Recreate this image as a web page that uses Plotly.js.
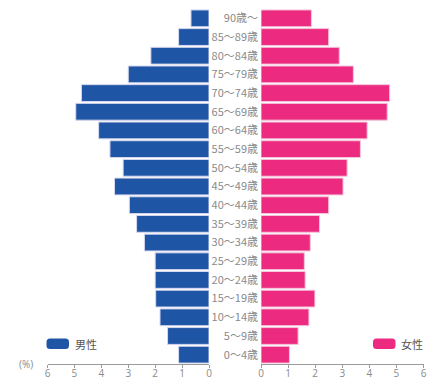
<!DOCTYPE html>
<html>
<head>
<meta charset="utf-8">
<script src="https://cdn.plot.ly/plotly-3.0.1.min.js"></script>
<style>html,body{margin:0;padding:0;background:#fff;}#chart{width:430px;height:380px;}</style>
</head>
<body>
<div id="chart"></div>
<script>
const ageGroups = ['0～4歳','5～9歳','10～14歳','15～19歳','20～24歳','25～29歳','30～34歳','35～39歳','40～44歳','45～49歳','50～54歳','55～59歳','60～64歳','65～69歳','70～74歳','75～79歳','80～84歳','85～89歳','90歳～'];
const maleValues = [1.13,1.54,1.82,1.98,2.0,2.0,2.40,2.69,2.96,3.51,3.19,3.68,4.10,4.95,4.74,3.0,2.16,1.13,0.67];
const femaleValues = [1.05,1.37,1.77,1.99,1.63,1.60,1.82,2.16,2.50,3.03,3.18,3.67,3.92,4.66,4.75,3.41,2.89,2.50,1.86];
const tickVals = [0,1,2,3,4,5,6];
const maleLabel = '男性';
const femaleLabel = '女性';
const unitLabel = '(%)';

const W = 430, H = 380;
const px = x => x / W;
const py = y => 1 - y / H;
const blue = '#1f55a5';
const pink = '#ec2a7f';
const gray = '#8a8a8a';

function roundRect(x0, y0, x1, y1, r) {
  const X = v => px(v), Y = v => py(v);
  return `M ${X(x0 + r)} ${Y(y0)} L ${X(x1 - r)} ${Y(y0)} Q ${X(x1)} ${Y(y0)} ${X(x1)} ${Y(y0 + r)} L ${X(x1)} ${Y(y1 - r)} Q ${X(x1)} ${Y(y1)} ${X(x1 - r)} ${Y(y1)} L ${X(x0 + r)} ${Y(y1)} Q ${X(x0)} ${Y(y1)} ${X(x0)} ${Y(y1 - r)} L ${X(x0)} ${Y(y0 + r)} Q ${X(x0)} ${Y(y0)} ${X(x0 + r)} ${Y(y0)} Z`;
}

const traces = [
  {type:'bar', orientation:'h', y: ageGroups, x: maleValues, xaxis:'x', yaxis:'y', name: maleLabel,
   marker:{color: blue, line:{color:'#d6d8ee', width:1}}, hoverinfo:'none'},
  {type:'bar', orientation:'h', y: ageGroups, x: femaleValues, xaxis:'x2', yaxis:'y', name: femaleLabel,
   marker:{color: pink, line:{color:'#f3c6dc', width:1}}, hoverinfo:'none'}
];

const axisCommon = {
  tickvals: tickVals, ticks:'outside', ticklen:3, tickcolor:'#9a9a9a', tickwidth:1,
  showline:true, linecolor:'#9a9a9a', linewidth:1, showgrid:false, zeroline:false,
  ticklabelstandoff:-3,
  tickfont:{family:'Open Sans, DejaVu Sans, sans-serif', size:10, color:gray}, fixedrange:true
};

const layout = {
  width: W, height: H,
  margin:{l:0, r:0, t:0, b:0},
  paper_bgcolor:'#fff', plot_bgcolor:'rgba(0,0,0,0)',
  showlegend:false, bargap:0.1, hovermode:false,
  xaxis: Object.assign({}, axisCommon, {domain:[px(47.5), px(209)], range:[6,0], anchor:'y'}),
  xaxis2: Object.assign({}, axisCommon, {domain:[px(261), px(423.5)], range:[0,6], anchor:'y'}),
  yaxis: {domain:[py(364), py(9)], anchor:'x2', side:'left', type:'category',
          categoryorder:'array', categoryarray: ageGroups,
          showline:false, showgrid:false, zeroline:false, ticks:'', ticklabelstandoff:2,
          tickfont:{family:'Noto Sans CJK JP, sans-serif', size:11, color:gray}, fixedrange:true},
  shapes: [
    {type:'path', xref:'paper', yref:'paper', path: roundRect(46.5, 338.5, 69, 349, 3.5), fillcolor: blue, line:{width:0}},
    {type:'path', xref:'paper', yref:'paper', path: roundRect(373, 338.5, 395.5, 349, 3.5), fillcolor: pink, line:{width:0}}
  ],
  annotations: [
    {xref:'paper', yref:'paper', x: px(73), y: py(344), xanchor:'left', yanchor:'middle', showarrow:false,
     text: maleLabel, font:{family:'Noto Sans CJK JP, sans-serif', size:11, color:'#555'}},
    {xref:'paper', yref:'paper', x: px(399), y: py(344), xanchor:'left', yanchor:'middle', showarrow:false,
     text: femaleLabel, font:{family:'Noto Sans CJK JP, sans-serif', size:11, color:'#555'}},
    {xref:'paper', yref:'paper', x: px(17), y: py(364), xanchor:'left', yanchor:'middle', showarrow:false,
     text: unitLabel, font:{family:'Open Sans, DejaVu Sans, sans-serif', size:10, color:gray}}
  ]
};

Plotly.newPlot('chart', traces, layout, {displayModeBar:false, staticPlot:true});
</script>
</body>
</html>
